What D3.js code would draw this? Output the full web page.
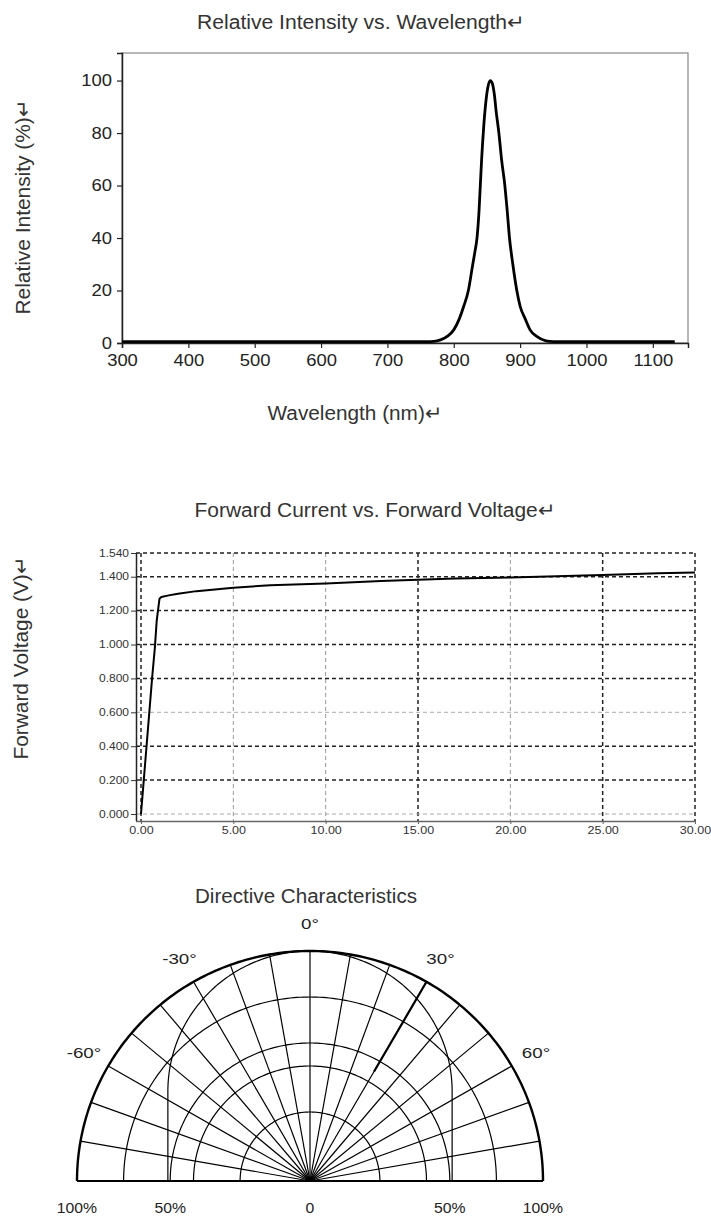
<!DOCTYPE html>
<html><head><meta charset="utf-8">
<script src="https://cdn.jsdelivr.net/npm/d3@7/dist/d3.min.js"></script>
<style>
body{margin:0;background:#fff}
svg{display:block}
text{font-family:"Liberation Sans",Arial,sans-serif}
</style>
</head><body>
<svg id="c" width="711" height="1218"></svg>
<script>
// ---------- DATA ----------
// Chart 1: spectrum
const wavelengthNm = [300, 700, 760, 770, 780, 790, 800, 808, 815, 822, 828, 832, 835, 838, 840, 842, 845, 848, 851, 855, 858, 861, 864, 868, 872, 877, 880, 884, 889, 895, 900, 908, 915, 925, 939, 950, 1000, 1133];
const relIntensity = [0.5, 0.5, 0.5, 0.6, 1.2, 2.5, 5, 9, 14, 20, 29, 35, 40, 50, 60, 70, 82, 91, 97, 100, 99, 95, 88, 80, 70, 60, 52, 40, 30, 20, 14, 9, 5, 2.5, 0.8, 0.5, 0.5, 0.5];
const specXTicks = [300, 400, 500, 600, 700, 800, 900, 1000, 1100];
const specYTicks = [0, 20, 40, 60, 80, 100];

// Chart 2: forward current vs forward voltage
const currentMA = [0, 0.15, 0.3, 0.45, 0.6, 0.75, 0.85, 1.0, 1.1, 1.5, 2.0, 3.0, 4.0, 5.0, 7.0, 10.0, 13.0, 17.0, 20.0, 23.0, 25.0, 28.0, 30.0];
const voltageV  = [0, 0.2, 0.4, 0.6, 0.8, 0.98, 1.14, 1.27, 1.28, 1.29, 1.30, 1.315, 1.325, 1.335, 1.35, 1.36, 1.375, 1.39, 1.395, 1.405, 1.41, 1.42, 1.425];
const ivXTicks = [0, 5, 10, 15, 20, 25, 30];
const ivXTickLabels = ["0.00", "5.00", "10.00", "15.00", "20.00", "25.00", "30.00"];
const ivYTicks = [0, 0.2, 0.4, 0.6, 0.8, 1.0, 1.2, 1.4, 1.54];
const ivYTickLabels = ["0.000", "0.200", "0.400", "0.600", "0.800", "1.000", "1.200", "1.400", "1.540"];

// Chart 3: directive characteristics (polar grid)
const polarSpokeAngles = [-90, -80, -70, -60, -50, -40, -30, -20, -10, 0, 10, 20, 30, 40, 50, 60, 70, 80, 90];
const polarRings = [0.3, 0.5, 0.6, 0.8];
const polarBeamOutlines = [0.61];
const polarAngleLabelAngles = [-60, -30, 0, 30, 60];
const polarAngleLabels = ["-60°", "-30°", "0°", "30°", "60°"];
const polarBaseLabelPos = [-1, -0.6, 0, 0.6, 1];
const polarBaseLabels = ["100%", "50%", "0", "50%", "100%"];

// ---------- HELPERS ----------
const svg = d3.select("#c");
function stretch(sel, f) {
  sel.each(function () {
    const w = this.getComputedTextLength();
    d3.select(this).attr("textLength", w * f).attr("lengthAdjust", "spacingAndGlyphs");
  });
}
function fit(sel, w) {
  sel.attr("textLength", w).attr("lengthAdjust", "spacingAndGlyphs");
}

// ---------- CHART 1 ----------
{
  const x = d3.scaleLinear().domain([300, 1153]).range([122, 688]);
  const y = d3.scaleLinear().domain([0, 110.5]).range([343, 53]);
  const g = svg.append("g");

  g.append("text").attr("x", 361).attr("y", 29).attr("text-anchor", "middle")
    .attr("font-size", 20).attr("fill", "#333").text("Relative Intensity vs. Wavelength↵")
    .call(fit, 328);

  g.append("rect").attr("x", 122).attr("y", 53).attr("width", 566).attr("height", 290)
    .attr("fill", "none").attr("stroke", "#888").attr("stroke-width", 1.2);

  const xa = g.append("g").attr("transform", "translate(0,343)")
    .call(d3.axisBottom(x).tickValues(specXTicks).tickSize(5).tickPadding(7).tickFormat(d3.format("d")));
  xa.select(".domain").attr("stroke", "#222").attr("stroke-width", 1.5);
  xa.selectAll(".tick line").attr("stroke", "#222").attr("stroke-width", 1.2);
  xa.selectAll("text").attr("font-size", 16).attr("fill", "#222")
    .attr("font-family", "Liberation Sans, Arial, sans-serif").call(stretch, 1.15);

  const ya = g.append("g").attr("transform", "translate(122,0)")
    .call(d3.axisLeft(y).tickValues(specYTicks).tickSize(5).tickPadding(5));
  ya.select(".domain").attr("stroke", "#222").attr("stroke-width", 1.5);
  ya.selectAll(".tick line").attr("stroke", "#222").attr("stroke-width", 1.2);
  ya.selectAll("text").attr("font-size", 16).attr("fill", "#222")
    .attr("font-family", "Liberation Sans, Arial, sans-serif").call(stretch, 1.15);

  const line = d3.line().x((d, i) => x(wavelengthNm[i])).y(d => y(d)).curve(d3.curveMonotoneX);
  g.append("path").datum(relIntensity).attr("d", line)
    .attr("fill", "none").attr("stroke", "#000").attr("stroke-width", 2.8).attr("stroke-linejoin", "round");

  g.append("text").attr("x", 355).attr("y", 420).attr("text-anchor", "middle")
    .attr("font-size", 20).attr("fill", "#333").text("Wavelength (nm)↵").call(fit, 175);
  g.append("text").attr("transform", "translate(30,207) rotate(-90)").attr("text-anchor", "middle")
    .attr("font-size", 20).attr("fill", "#333").text("Relative Intensity (%)↵").call(fit, 215);
}

// ---------- CHART 2 ----------
{
  const x = d3.scaleLinear().domain([0, 30]).range([141, 695]);
  const y = d3.scaleLinear().domain([0, 1.54]).range([814, 553]);
  const g = svg.append("g");

  g.append("text").attr("x", 375).attr("y", 517).attr("text-anchor", "middle")
    .attr("font-size", 20).attr("fill", "#333").text("Forward Current vs. Forward Voltage↵")
    .call(fit, 361);
  g.append("text").attr("transform", "translate(28,658) rotate(-90)").attr("text-anchor", "middle")
    .attr("font-size", 20).attr("fill", "#333").text("Forward Voltage (V)↵").call(fit, 203);

  const lightX = new Set([5, 10, 20]);
  const lightY = new Set([0, 0.6]);
  g.selectAll(".vg").data(ivXTicks).join("line")
    .attr("x1", d => x(d)).attr("x2", d => x(d)).attr("y1", y(1.54)).attr("y2", 821)
    .attr("stroke", d => lightX.has(d) ? "#999" : "#222")
    .attr("stroke-width", d => lightX.has(d) ? 1 : 1.5)
    .attr("stroke-dasharray", "4,3");
  g.selectAll(".hg").data(ivYTicks).join("line")
    .attr("x1", 136).attr("x2", x(30)).attr("y1", d => y(d)).attr("y2", d => y(d))
    .attr("stroke", d => lightY.has(d) ? "#aaa" : "#222")
    .attr("stroke-width", d => lightY.has(d) ? 1 : 1.5)
    .attr("stroke-dasharray", "4,3");

  const xa = g.append("g").attr("transform", "translate(0,821)")
    .call(d3.axisBottom(x).tickValues(ivXTicks).tickSize(3).tickPadding(3).tickFormat((d, i) => ivXTickLabels[i]));
  xa.select(".domain").attr("stroke", "#666").attr("stroke-width", 1.5).attr("d", "M136,0.5H695");
  xa.selectAll(".tick line").attr("stroke", "#666");
  xa.selectAll("text").attr("font-size", 10).attr("fill", "#333")
    .attr("font-family", "Liberation Sans, Arial, sans-serif").call(stretch, 1.25);

  const ya = g.append("g").attr("transform", "translate(136,0)")
    .call(d3.axisLeft(y).tickValues(ivYTicks).tickSize(5).tickPadding(2).tickFormat((d, i) => ivYTickLabels[i]));
  ya.select(".domain").attr("stroke", "#222").attr("stroke-width", 1.5).attr("d", "M0.5,553V821");
  ya.selectAll(".tick line").attr("stroke", "#333");
  ya.selectAll("text").attr("font-size", 10).attr("fill", "#333")
    .attr("font-family", "Liberation Sans, Arial, sans-serif").call(stretch, 1.2);

  const line = d3.line().x((d, i) => x(currentMA[i])).y(d => y(d));
  g.append("path").datum(voltageV).attr("d", line)
    .attr("fill", "none").attr("stroke", "#000").attr("stroke-width", 2).attr("stroke-linejoin", "round");
}

// ---------- CHART 3 ----------
{
  const sx = d3.scaleLinear().domain([-1, 1]).range([77, 543]);
  const sy = d3.scaleLinear().domain([0, 1]).range([1181, 951]);
  const rad = a => a * Math.PI / 180;
  const pt = (r, a) => [sx(r * Math.sin(rad(a))), sy(r * Math.cos(rad(a)))];
  const g = svg.append("g");
  const line = d3.line();

  g.append("text").attr("x", 306).attr("y", 903).attr("text-anchor", "middle")
    .attr("font-size", 20).attr("fill", "#333").text("Directive Characteristics").call(fit, 222);

  // spokes
  g.selectAll(".sp").data(polarSpokeAngles).join("path")
    .attr("d", a => line([pt(0, a), pt(1, a)]))
    .attr("stroke", "#000")
    .attr("stroke-width", a => Math.abs(a) === 90 ? 1.8 : 1.2)
    .attr("fill", "none");
  // heavier outer part of the 30° spoke
  g.append("path").attr("d", line([pt(0.55, 30), pt(1, 30)]))
    .attr("stroke", "#000").attr("stroke-width", 2.2).attr("fill", "none");

  const arcAngles = d3.range(-90, 90.5, 1);
  // concentric rings
  g.selectAll(".rg").data(polarRings).join("path")
    .attr("d", r => line(arcAngles.map(a => pt(r, a))))
    .attr("stroke", "#000").attr("stroke-width", 1.2).attr("fill", "none");

  // beam outline: vertical sides rising from the baseline, closed by an arc touching the rim at 0°
  g.selectAll(".bo").data(polarBeamOutlines).join("path")
    .attr("d", k => {
      const c = 1 - k;
      const pts = [[sx(-k), sy(0)]];
      arcAngles.forEach(a => pts.push([sx(k * Math.sin(rad(a))), sy(c + k * Math.cos(rad(a)))]));
      pts.push([sx(k), sy(0)]);
      return line(pts);
    })
    .attr("stroke", "#000").attr("stroke-width", 1.2).attr("fill", "none");

  // rim
  g.append("path").attr("d", line(arcAngles.map(a => pt(1, a))))
    .attr("stroke", "#000").attr("stroke-width", 2.4).attr("fill", "none");

  // angle labels
  g.selectAll(".al").data(polarAngleLabelAngles).join("text")
    .attr("x", a => pt(1.12, a)[0]).attr("y", a => pt(1.12, a)[1] + 6)
    .attr("text-anchor", "middle").attr("font-size", 15).attr("fill", "#222")
    .text((a, i) => polarAngleLabels[i]).call(stretch, 1.25);

  g.selectAll(".bl").data(polarBaseLabelPos).join("text")
    .attr("x", p => sx(p)).attr("y", 1213).attr("text-anchor", "middle")
    .attr("font-size", 15).attr("fill", "#222")
    .text((p, i) => polarBaseLabels[i]).call(stretch, 1.05);
}
</script>
</body></html>
